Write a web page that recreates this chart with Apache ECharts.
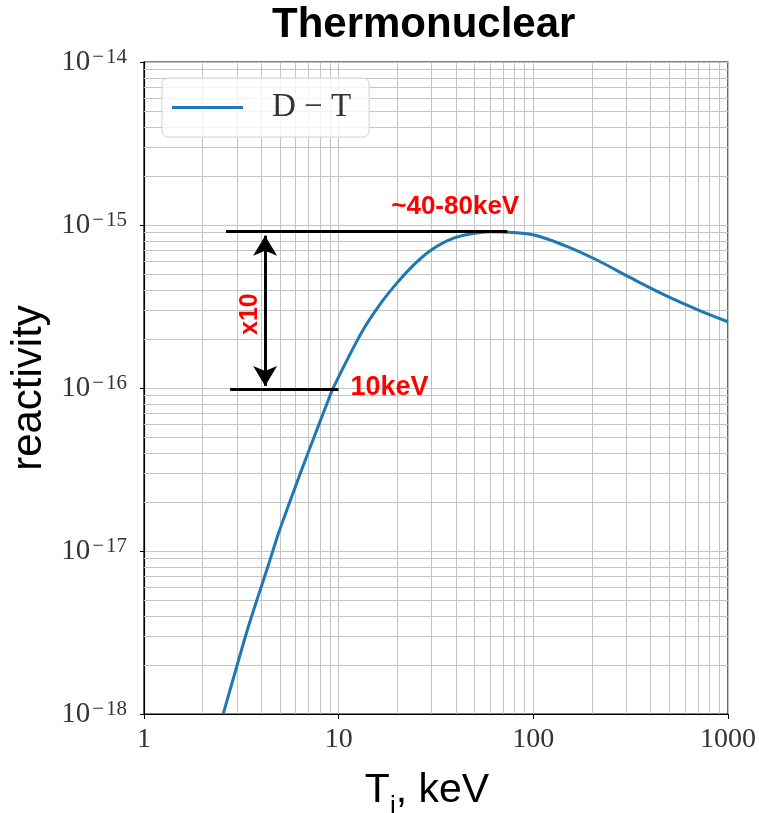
<!DOCTYPE html>
<html>
<head>
<meta charset="utf-8">
<script src="https://cdn.jsdelivr.net/npm/echarts@6/dist/echarts.min.js"></script>
<style>html,body{margin:0;padding:0;background:#fff}#c{width:759px;height:813px}</style>
</head>
<body>
<div id="c"></div>
<script>
// Data: ion temperature (keV) vs D-T reactivity
const temperature = [2.557, 2.997, 3.438, 3.87, 4.356, 4.903, 5.521, 6.215, 6.997, 7.875, 8.863, 9.37, 13.2, 16.3, 19.9, 24.3, 29.5, 36, 43.8, 60, 96.5, 143, 212, 315, 468, 695, 1000];
const reactivity  = [1.01e-18, 1.96e-18, 3.44e-18, 5.34e-18, 8.2e-18, 1.28e-17, 1.9e-17, 2.79e-17, 4.06e-17, 5.88e-17, 8.47e-17, 1.0e-16, 2.22e-16, 3.26e-16, 4.4e-16, 5.69e-16, 6.95e-16, 8.0e-16, 8.65e-16, 9.1e-16, 8.77e-16, 7.53e-16, 6.1e-16, 4.75e-16, 3.74e-16, 3.03e-16, 2.55e-16];
const seriesName = 'D \u2212 T';
const xTickLabels = ['1', '10', '100', '1000'];
const minorMultipliers = [2, 3, 4, 5, 6, 7, 8, 9];
const xDecades = [1, 10, 100];
const yDecades = [1e-18, 1e-17, 1e-16, 1e-15];
const xRange = [1, 1000];
const yRange = [1e-18, 1e-14];
// annotation values (data coordinates)
const peakLevel = 9.18e-16;
const peakLineX = [2.64, 73.5];
const tenLevel = 9.86e-17;
const tenLineX = [2.77, 9.98];
const arrowX = 4.19;
const arrowY = [8.6e-16, 1.03e-16];
const labelPeak = {text: '~40-80keV', x: 39.7, y: 1.29e-15};
const labelTen = {text: '10keV', x: 11.5, y: 1.0e-16};
const labelX10 = {text: 'x10', x: 3.51, y: 2.84e-16};

const xMinor = [];
xDecades.forEach(d => minorMultipliers.forEach(m => xMinor.push(m * d)));
const yMinor = [];
yDecades.forEach(d => minorMultipliers.forEach(m => yMinor.push(m * d)));

const gridColor = '#c4c4c4';
const chart = echarts.init(document.getElementById('c'), null, {renderer: 'canvas'});
const serif = 'Liberation Serif';
const sans = 'Liberation Sans';

const minorLines = xMinor.map(v => [{coord: [v, yRange[0]]}, {coord: [v, yRange[1]]}])
  .concat(yMinor.map(v => [{coord: [xRange[0], v]}, {coord: [xRange[1], v]}]));

const option = {
  animation: false,
  backgroundColor: '#fff',
  title: {
    text: 'Thermonuclear',
    left: 267, top: -1,
    textStyle: {fontFamily: sans, fontWeight: 'bold', fontSize: 42, color: '#000'}
  },
  legend: {
    data: [seriesName],
    left: 162, top: 78,
    orient: 'vertical',
    padding: [13, 18, 13, 10],
    backgroundColor: 'rgba(255,255,255,0.8)',
    borderColor: '#d0d0d0', borderWidth: 1, borderRadius: 6,
    icon: 'rect', itemWidth: 71, itemHeight: 3,
    textStyle: {fontFamily: serif, fontSize: 33, color: '#333', padding: [0, 0, 0, 24]}
  },
  grid: {left: 144, right: 31, top: 62, bottom: 99, show: true, borderColor: '#000', borderWidth: 1.2,
    containLabel: false, outerBoundsMode: 'none'},
  xAxis: {
    type: 'log', logBase: 10, min: xRange[0], max: xRange[1], splitNumber: 3,
    name: '{n|T}{s|i}{n|, keV}{p|}', nameLocation: 'middle', nameGap: 51,
    nameTextStyle: {rich: {
      n: {fontFamily: sans, fontSize: 41, color: '#000', verticalAlign: 'bottom', lineHeight: 46},
      s: {fontFamily: sans, fontSize: 26, color: '#000', verticalAlign: 'bottom', lineHeight: 30, padding: [0, 0, -9, 0]},
      p: {width: 18, lineHeight: 46}
    }},
    axisLine: {show: true, lineStyle: {color: '#000', width: 1.2}},
    axisTick: {show: true, length: 5, lineStyle: {color: '#000'}},
    axisLabel: {margin: 12, fontFamily: serif, fontSize: 28, color: '#333',
      formatter: v => { const i = Math.round(Math.log10(v)); return xTickLabels[i]; }},
    splitLine: {show: true, lineStyle: {color: gridColor, width: 1}}
  },
  yAxis: {
    type: 'log', logBase: 10, min: yRange[0], max: yRange[1], splitNumber: 4,
    name: 'reactivity', nameLocation: 'middle', nameGap: 84,
    nameTextStyle: {fontFamily: sans, fontSize: 42, color: '#000'},
    axisLine: {show: true, lineStyle: {color: '#000', width: 1.2}},
    axisTick: {show: true, length: 4, lineStyle: {color: '#000'}},
    axisLabel: {margin: 17, fontFamily: serif, color: '#333',
      formatter: v => { const e = Math.round(Math.log10(v)); return '{b|10}{m|\u2212}{s|' + Math.abs(e) + '}'; },
      rich: {
        b: {fontFamily: serif, fontSize: 29, color: '#333', verticalAlign: 'bottom', lineHeight: 30},
        m: {fontFamily: serif, fontSize: 21, color: '#333', verticalAlign: 'top', lineHeight: 30, padding: [0, 2, 13, 2]},
        s: {fontFamily: serif, fontSize: 21, color: '#333', verticalAlign: 'top', lineHeight: 30, padding: [0, 0, 13, 0]}
      }},
    splitLine: {show: true, lineStyle: {color: gridColor, width: 1}}
  },
  series: [
    {
      name: 'minorGrid', type: 'line', data: [], z: 1, silent: true,
      markLine: {
        silent: true, z: 1, symbol: ['none', 'none'], label: {show: false},
        lineStyle: {color: gridColor, width: 1, type: 'solid'},
        emphasis: {disabled: true},
        data: minorLines
      }
    },
    {
      name: seriesName, type: 'line', z: 3,
      data: temperature.map((t, i) => [t, reactivity[i]]),
      showSymbol: false, smooth: 0.35,
      lineStyle: {color: '#1f77b4', width: 3},
      itemStyle: {color: '#1f77b4'}
    },
    {
      name: 'annotations', type: 'line', data: [], z: 6, silent: true,
      markLine: {
        silent: true, z: 6, symbol: ['none', 'none'], label: {show: false},
        lineStyle: {color: '#000', width: 3, type: 'solid'},
        emphasis: {disabled: true},
        data: [
          [{coord: [peakLineX[0], peakLevel]}, {coord: [peakLineX[1], peakLevel]}],
          [{coord: [tenLineX[0], tenLevel]}, {coord: [tenLineX[1], tenLevel]}],
          [{coord: [arrowX, arrowY[0]], symbol: 'arrow', symbolSize: [18, 20]},
           {coord: [arrowX, arrowY[1]], symbol: 'arrow', symbolSize: [18, 20]}]
        ]
      },
      markPoint: {
        silent: true, z: 7, symbolSize: 0,
        label: {show: true, position: 'inside', color: '#ff0000', fontFamily: sans, fontWeight: 'bold', fontSize: 26},
        data: [
          {coord: [labelPeak.x, labelPeak.y], value: 0, label: {formatter: labelPeak.text}},
          {coord: [labelTen.x, labelTen.y], value: 0, label: {formatter: labelTen.text, position: 'right', distance: 0, fontSize: 27}},
          {coord: [labelX10.x, labelX10.y], value: 0, label: {formatter: labelX10.text, rotate: 90, fontSize: 25}}
        ]
      }
    }
  ]
};
chart.setOption(option);
</script>
</body>
</html>
